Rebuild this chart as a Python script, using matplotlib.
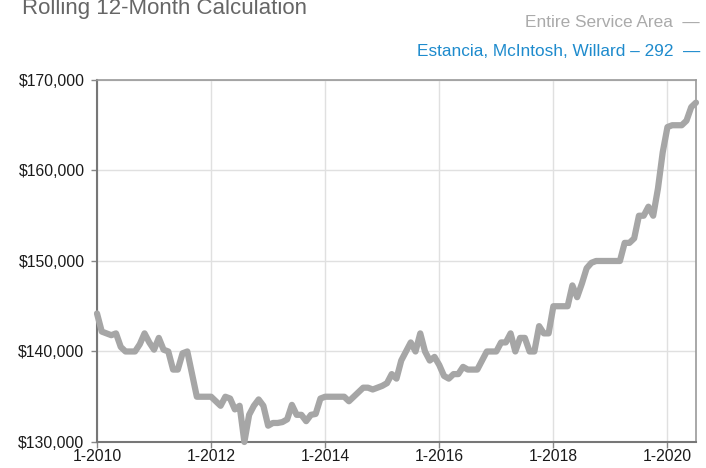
import matplotlib
matplotlib.use("Agg")
import matplotlib.pyplot as plt

plt.rcParams['font.family'] = ['Liberation Sans', 'DejaVu Sans']

title = "Rolling 12-Month Calculation"
legend_labels = ["Entire Service Area", "Estancia, McIntosh, Willard \u2013 292"]
tick_labels = ["1-2010", "1-2012", "1-2014", "1-2016", "1-2018", "1-2020"]
y_ticks = [130000, 140000, 150000, 160000, 170000]

# Monthly median sales price, Jan 2010 .. Jul 2020 (Entire Service Area)
values = [
    144200, 142200, 142000, 141800, 142000, 140500, 140000, 140000, 140000, 140800, 142000, 141000,  # 2010
    140200, 141500, 140200, 140000, 138000, 138000, 139800, 140000, 137500, 135000, 135000, 135000,  # 2011
    135000, 134500, 134000, 135000, 134800, 133600, 134000, 130000, 133000, 134000, 134700, 134000,  # 2012
    131800, 132100, 132100, 132200, 132500, 134100, 133000, 133000, 132300, 133000, 133100, 134800,  # 2013
    135000, 135000, 135000, 135000, 135000, 134500, 135000, 135500, 136000, 136000, 135800, 136000,  # 2014
    136200, 136500, 137500, 137000, 139000, 140000, 141000, 140000, 142000, 140000, 139000, 139400,  # 2015
    138500, 137300, 137000, 137500, 137500, 138300, 138000, 138000, 138000, 139000, 140000, 140000,  # 2016
    140000, 141000, 141000, 142000, 140000, 141500, 141500, 140000, 140000, 142800, 142000, 142000,  # 2017
    145000, 145000, 145000, 145000, 147300, 146000, 147500, 149200, 149800, 150000, 150000, 150000,  # 2018
    150000, 150000, 150000, 152000, 152000, 152500, 155000, 155000, 156000, 155000, 158000, 162000,  # 2019
    164800, 165000, 165000, 165000, 165500, 167000, 167500,                                          # 2020
]
months = list(range(len(values)))
tick_pos = [24 * i for i in range(len(tick_labels))]

fig = plt.figure(figsize=(7.06, 4.68), dpi=100)
ax = fig.add_axes([0.1374, 0.0556, 0.8484, 0.7735])

ax.plot(months, values, color="#a6a6a6", linewidth=4.5, solid_capstyle="round",
        solid_joinstyle="round", zorder=3, clip_on=False)

ax.set_xlim(0, len(values) - 1)
ax.set_ylim(130000, 170000)
ax.set_xticks(tick_pos)
ax.set_xticklabels(tick_labels)
ax.set_yticks(y_ticks)
ax.set_yticklabels([f"${v:,.0f}" for v in y_ticks])
ax.grid(True, color="#e0e0e0", linewidth=1, zorder=0)
ax.tick_params(axis="both", colors="#888888", labelcolor="#1a1a1a", labelsize=11.3,
               length=4, width=1)
ax.tick_params(axis="x", pad=1)
ax.tick_params(axis="y", pad=5)
for side in ["left", "bottom"]:
    ax.spines[side].set_color("#777777")
    ax.spines[side].set_linewidth(1.5)
for side in ["top", "right"]:
    ax.spines[side].set_color("#999999")
    ax.spines[side].set_linewidth(1.2)

fig.text(22 / 706, 1 - 14 / 468, title, fontsize=16, color="#666666", ha="left",
         va="baseline")
fig.text(700 / 706, 1 - 27 / 468, legend_labels[0] + "  \u2014", fontsize=12.4,
         color="#aaaaaa", ha="right", va="baseline")
fig.text(700 / 706, 1 - 56 / 468, legend_labels[1] + "  \u2014", fontsize=12.4,
         color="#1e8bcd", ha="right", va="baseline")

fig.savefig("out.png", dpi=100)
